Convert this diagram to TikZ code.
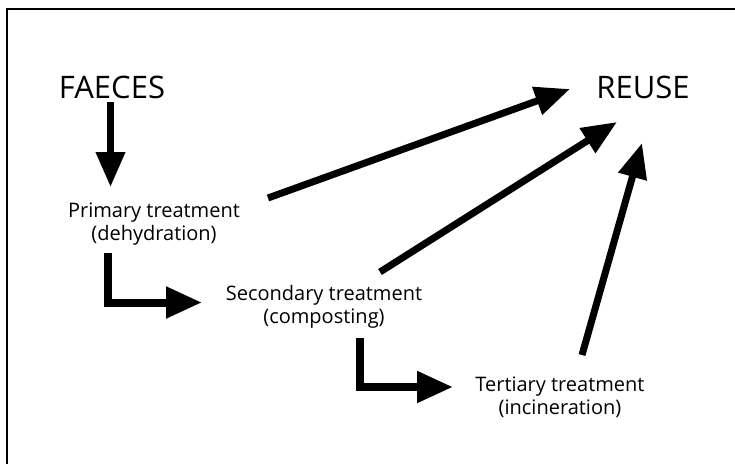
\documentclass[tikz,border=0pt]{standalone}
\usepackage{fontspec}
\setmainfont{Open Sans}
\usetikzlibrary{arrows.meta}
\begin{document}
\begin{tikzpicture}[x=1pt,y=-1pt,
  big/.style={font=\fontsize{31}{36}\selectfont, inner sep=0pt},
  small/.style={font=\fontsize{20}{23.5}\selectfont, align=center, inner sep=0pt},
  flow/.style={line width=7pt, -{Triangle[length=35pt,width=28pt]}},
  elbow/.style={line width=8pt, line join=miter, -{Triangle[length=36pt,width=30pt]}}]
\useasboundingbox (0,0) rectangle (735,464);
% frame (only top and left edges visible)
\draw[line width=2.2pt] (7,464) -- (7,9) -- (735,9);

% texts
\node[big] (faeces) at (112,87) {FAECES};
\node[big] (reuse) at (643,87) {REUSE};
\node[small] (primary) at (154,224) {Primary treatment\\(dehydration)};
\node[small] (secondary) at (324,307) {Secondary treatment\\(composting)};
\node[small] (tertiary) at (560,397) {Tertiary treatment\\(incineration)};

% connector end points
\coordinate (f0) at (110.5,102);
\coordinate (f1) at (110.5,187);
\coordinate (p0) at (108,253);
\coordinate (p1) at (202,302.5);
\coordinate (s0) at (360,338);
\coordinate (s1) at (453,387);
\coordinate (r1a) at (268,198);
\coordinate (r1b) at (570,89);
\coordinate (r2a) at (380,272);
\coordinate (r2b) at (617,122);
\coordinate (r3a) at (582,355);
\coordinate (r3b) at (642,143);

\draw[flow] (f0) -- (f1);
\draw[elbow] (p0) |- (p1);
\draw[elbow] (s0) |- (s1);
\draw[flow] (r1a) -- (r1b);
\draw[flow] (r2a) -- (r2b);
\draw[flow] (r3a) -- (r3b);
\end{tikzpicture}
\end{document}
